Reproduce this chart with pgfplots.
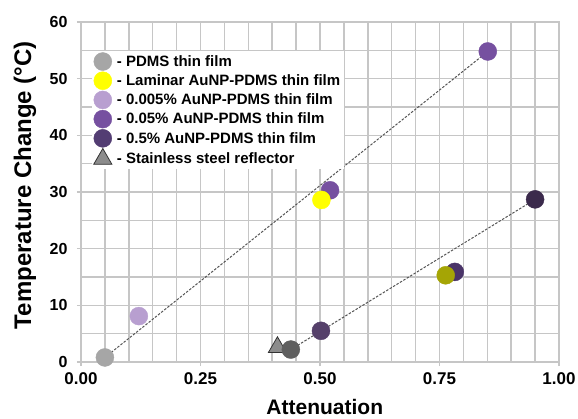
\documentclass[border=0pt]{standalone}
\usepackage{fontspec}
\setmainfont{Liberation Sans}
\usepackage{pgfplots}
\pgfplotsset{compat=1.18}
\definecolor{gridc}{HTML}{C6C6C6}
\definecolor{pdmsc}{HTML}{A6A6A6}
\definecolor{lamc}{HTML}{FFFF00}
\definecolor{lightp}{HTML}{B89FD0}
\definecolor{midp}{HTML}{7650A0}
\definecolor{darkp}{HTML}{533D73}
\definecolor{trig}{HTML}{8C8C8C}
\definecolor{rgray}{HTML}{5F5F5F}
\definecolor{rp1}{HTML}{55406A}
\definecolor{rp2}{HTML}{4A3468}
\definecolor{rp3}{HTML}{3B2A4C}
\definecolor{olive}{HTML}{A5A505}
\definecolor{linec}{HTML}{555555}
\begin{document}
\begin{tikzpicture}
\useasboundingbox (-81pt,-56pt) rectangle (497pt,362pt);
\begin{axis}[
  at={(0,0)}, anchor=south west,
  scale only axis, width=478pt, height=340pt,
  xmin=0, xmax=1, ymin=0, ymax=60,
  xtick={0,0.25,0.5,0.75,1},
  xticklabels={0.00,0.25,0.50,0.75,1.00},
  ytick={0,10,20,30,40,50,60},
  minor xtick={0.05,0.1,0.15,0.2,0.3,0.35,0.4,0.45,0.55,0.6,0.65,0.7,0.8,0.85,0.9,0.95},
  minor ytick={5,15,25,35,45,55},
  grid=both,
  grid style={gridc, line width=1.5pt},
  axis line style={gridc, line width=1.5pt},
  tick style={gridc, line width=1.5pt},
  major tick length=4pt, minor tick length=0pt, tick align=outside,
  xtick pos=left, ytick pos=left,
  /pgf/number format/assume math mode=true,
  xticklabel style={font=\fontsize{17}{17}\selectfont\bfseries, yshift=-3pt},
  yticklabel style={font=\fontsize{16}{16}\selectfont\bfseries, xshift=-6pt},
  xlabel={Attenuation},
  xlabel style={font=\fontsize{21}{21}\selectfont\bfseries, at={(axis description cs:0.51,-0.132)}, anchor=center},
  ylabel={Temperature Change (°C)},
  ylabel style={font=\fontsize{24}{24}\selectfont\bfseries, at={(axis description cs:-0.117,0.52)}, anchor=center, rotate=0},
  legend style={at={(axis cs:0.022,55.0)}, anchor=north west, draw=none, fill=white,
    font=\fontsize{15}{15}\selectfont\bfseries, row sep=1.2pt, inner sep=2pt,
    /tikz/every odd column/.append style={column sep=3pt}},
  legend cell align=left,
]
% legend images
\addlegendimage{only marks, mark=*, mark size=9pt, mark options={fill=pdmsc, draw=pdmsc}}
\addlegendentry{- PDMS thin film}
\addlegendimage{only marks, mark=*, mark size=9pt, mark options={fill=lamc, draw=lamc}}
\addlegendentry{- Laminar AuNP-PDMS thin film}
\addlegendimage{only marks, mark=*, mark size=9pt, mark options={fill=lightp, draw=lightp}}
\addlegendentry{- 0.005\% AuNP-PDMS thin film}
\addlegendimage{only marks, mark=*, mark size=9pt, mark options={fill=midp, draw=midp}}
\addlegendentry{- 0.05\% AuNP-PDMS thin film}
\addlegendimage{only marks, mark=*, mark size=9pt, mark options={fill=darkp, draw=darkp}}
\addlegendentry{- 0.5\% AuNP-PDMS thin film}
\addlegendimage{only marks, mark=triangle*, mark size=10.5pt, mark options={fill=trig, draw=black!80, line width=0.8pt}}
\addlegendentry{- Stainless steel reflector}

% upper series (thin films alone)
\addplot[forget plot, only marks, mark=*, mark size=9pt, mark options={fill=pdmsc, draw=pdmsc}] coordinates {(0.050,0.8)};
\addplot[forget plot, only marks, mark=*, mark size=9pt, mark options={fill=lightp, draw=lightp}] coordinates {(0.121,8.1)};
\addplot[forget plot, only marks, mark=*, mark size=9pt, mark options={fill=midp, draw=midp}] coordinates {(0.521,30.3) (0.851,54.8)};
\addplot[forget plot, only marks, mark=*, mark size=9pt, mark options={fill=lamc, draw=lamc}] coordinates {(0.503,28.6)};

% lower series (with stainless steel reflector)
\addplot[forget plot, only marks, mark=triangle*, mark size=10.5pt, mark options={fill=trig, draw=black!80, line width=0.8pt}] coordinates {(0.411,2.6)};
\addplot[forget plot, only marks, mark=*, mark size=9pt, mark options={fill=rgray, draw=rgray}] coordinates {(0.439,2.2)};
\addplot[forget plot, only marks, mark=*, mark size=9pt, mark options={fill=rp1, draw=rp1}] coordinates {(0.502,5.5)};
\addplot[forget plot, only marks, mark=*, mark size=9pt, mark options={fill=rp2, draw=rp2}] coordinates {(0.782,15.9)};
\addplot[forget plot, only marks, mark=*, mark size=9pt, mark options={fill=olive, draw=olive}] coordinates {(0.763,15.3)};
\addplot[forget plot, only marks, mark=*, mark size=9pt, mark options={fill=rp3, draw=rp3}] coordinates {(0.950,28.7)};

% trend lines
\addplot[forget plot, no marks, draw=linec, line width=1pt, dash pattern=on 2.5pt off 1.5pt] coordinates {(0.050,0.8) (0.851,54.8)};
\addplot[forget plot, no marks, draw=linec, line width=1pt, dash pattern=on 2.5pt off 1.5pt] coordinates {(0.439,2.2) (0.950,28.7)};
\end{axis}
\end{tikzpicture}
\end{document}
